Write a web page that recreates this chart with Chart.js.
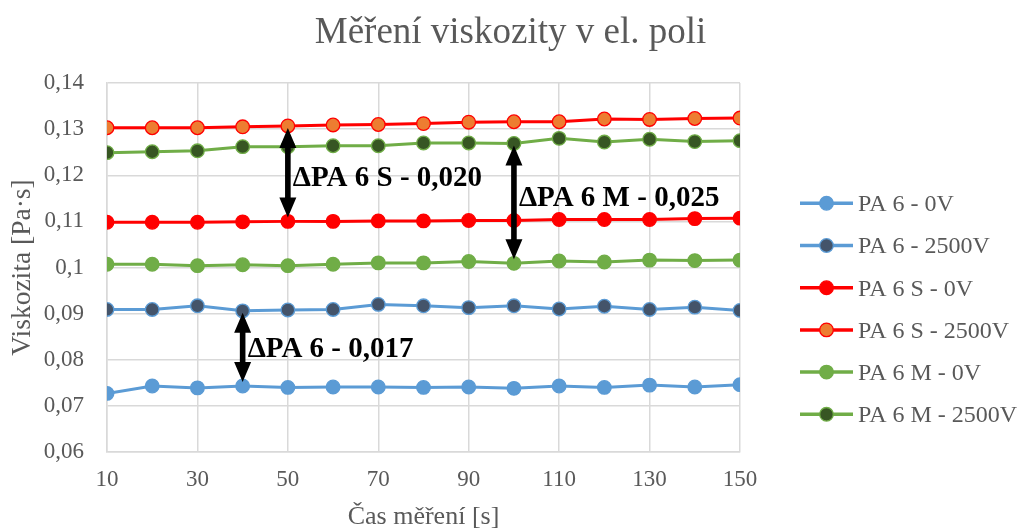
<!DOCTYPE html>
<html>
<head>
<meta charset="utf-8">
<script src="https://cdn.jsdelivr.net/npm/chart.js@4/dist/chart.umd.min.js"></script>
<style>
  html, body { margin: 0; padding: 0; background: #ffffff; }
  #wrap { width: 1021px; height: 529px; position: relative; }
</style>
</head>
<body>
<div id="wrap"><canvas id="chart" width="1021" height="529"></canvas></div>
<script>
// Measurement times [s]
const times = [10, 20, 30, 40, 50, 60, 70, 80, 90, 100, 110, 120, 130, 140, 150];
const xTicks = [10, 30, 50, 70, 90, 110, 130, 150];
const yTicks = [0.06, 0.07, 0.08, 0.09, 0.10, 0.11, 0.12, 0.13, 0.14];

// Viscosity [Pa·s]
const pa6_0V      = [0.0727, 0.0743, 0.0739, 0.0743, 0.0740, 0.0741, 0.0741, 0.0740, 0.0741, 0.0738, 0.0743, 0.0740, 0.0745, 0.0741, 0.0746];
const pa6_2500V   = [0.0909, 0.0909, 0.0917, 0.0906, 0.0908, 0.0909, 0.0920, 0.0917, 0.0913, 0.0917, 0.0910, 0.0916, 0.0909, 0.0914, 0.0907];
const pa6S_0V     = [0.1098, 0.1098, 0.1098, 0.1099, 0.1100, 0.1100, 0.1101, 0.1101, 0.1102, 0.1102, 0.1104, 0.1104, 0.1104, 0.1106, 0.1107];
const pa6S_2500V  = [0.1303, 0.1303, 0.1303, 0.1305, 0.1307, 0.1309, 0.1310, 0.1312, 0.1315, 0.1316, 0.1316, 0.1322, 0.1321, 0.1323, 0.1324];
const pa6M_0V     = [0.1007, 0.1007, 0.1004, 0.1006, 0.1004, 0.1007, 0.1010, 0.1010, 0.1013, 0.1009, 0.1014, 0.1012, 0.1016, 0.1015, 0.1016];
const pa6M_2500V  = [0.1249, 0.1251, 0.1253, 0.1262, 0.1262, 0.1264, 0.1264, 0.1270, 0.1270, 0.1269, 0.1280, 0.1272, 0.1278, 0.1273, 0.1275];

const seriesNames = ['PA 6 - 0V', 'PA 6 - 2500V', 'PA 6 S - 0V', 'PA 6 S - 2500V', 'PA 6 M - 0V', 'PA 6 M - 2500V'];
const seriesValues = [pa6_0V, pa6_2500V, pa6S_0V, pa6S_2500V, pa6M_0V, pa6M_2500V];

// Difference annotations: time, upper series, lower series, text
const deltaTimes  = [50, 100, 40];
const deltaUpper  = [3, 5, 1];
const deltaLower  = [2, 4, 0];
const deltaTexts  = ['ΔPA 6 S - 0,020', 'ΔPA 6 M - 0,025', 'ΔPA 6 - 0,017'];
const deltaTextShift = [6, -4, 2];

const lineColors  = ['#5B9BD5', '#5B9BD5', '#FF0000', '#FF0000', '#70AD47', '#70AD47'];
const pointFills  = ['#5B9BD5', '#44546A', '#FF0000', '#ED7D31', '#70AD47', '#375623'];

const SERIF = '"Liberation Serif", "Times New Roman", serif';
const GREY = '#595959';

const datasets = seriesValues.map((vals, i) => ({
  label: seriesNames[i],
  data: times.map((t, k) => ({ x: t, y: vals[k] })),
  borderColor: lineColors[i],
  backgroundColor: pointFills[i],
  pointBackgroundColor: pointFills[i],
  pointBorderColor: lineColors[i],
  pointBorderWidth: 1.3,
  pointRadius: 6.8,
  pointHoverRadius: 6.8,
  borderWidth: 3,
  tension: 0,
  order: seriesValues.length - 1 - i
}));

function drawArrow(ctx, x, yTop, yBot) {
  const hw = 8.5, hl = 20, sw = 2.8;
  ctx.beginPath();
  ctx.moveTo(x, yTop);
  ctx.lineTo(x + hw, yTop + hl);
  ctx.lineTo(x + sw, yTop + hl);
  ctx.lineTo(x + sw, yBot - hl);
  ctx.lineTo(x + hw, yBot - hl);
  ctx.lineTo(x, yBot);
  ctx.lineTo(x - hw, yBot - hl);
  ctx.lineTo(x - sw, yBot - hl);
  ctx.lineTo(x - sw, yTop + hl);
  ctx.lineTo(x - hw, yTop + hl);
  ctx.closePath();
  ctx.fill();
}

const decor = {
  id: 'decor',
  afterDatasetsDraw(chart) {
    const ctx = chart.ctx;
    const xs = chart.scales.x, ys = chart.scales.y;
    ctx.save();
    ctx.fillStyle = '#000000';
    deltaTimes.forEach((t, i) => {
      const k = times.indexOf(t);
      const px = xs.getPixelForValue(t);
      const yTop = ys.getPixelForValue(seriesValues[deltaUpper[i]][k]) + 2;
      const yBot = ys.getPixelForValue(seriesValues[deltaLower[i]][k]) - 4;
      drawArrow(ctx, px, yTop, yBot);
      ctx.font = 'bold 29px ' + SERIF;
      ctx.textAlign = 'left';
      ctx.textBaseline = 'middle';
      ctx.fillText(deltaTexts[i], px + 5, (yTop + yBot) / 2 + deltaTextShift[i]);
    });
    ctx.restore();
  },
  afterDraw(chart) {
    const ctx = chart.ctx;
    ctx.save();
    // chart title
    ctx.fillStyle = GREY;
    ctx.font = '37px ' + SERIF;
    ctx.textAlign = 'center';
    ctx.textBaseline = 'alphabetic';
    ctx.fillText('Měření viskozity v el. poli', chart.width / 2, 43);

    // legend
    const left = chart.chartArea.right + 60;
    const top = 203.3, step = 42.2, size = 24;
    chart.data.datasets.forEach((ds, i) => {
      const y = top + i * step;
      ctx.strokeStyle = ds.borderColor;
      ctx.lineWidth = 3.5;
      ctx.beginPath();
      ctx.moveTo(left, y);
      ctx.lineTo(left + 53, y);
      ctx.stroke();
      ctx.beginPath();
      ctx.arc(left + 26.5, y, 6.8, 0, Math.PI * 2);
      ctx.fillStyle = ds.pointBackgroundColor;
      ctx.fill();
      ctx.lineWidth = 1.3;
      ctx.strokeStyle = ds.pointBorderColor;
      ctx.stroke();
      ctx.fillStyle = GREY;
      ctx.font = size + 'px ' + SERIF;
      ctx.textAlign = 'left';
      ctx.textBaseline = 'alphabetic';
      ctx.fillText(ds.label, left + 58, y + 0.662 * size / 2);
    });
    ctx.restore();
  }
};

new Chart(document.getElementById('chart'), {
  type: 'line',
  data: { datasets },
  options: {
    responsive: false,
    devicePixelRatio: 1,
    animation: false,
    events: [],
    layout: { padding: { top: 83, right: 281, left: 0, bottom: 0 } },
    plugins: {
      legend: { display: false },
      title: { display: false },
      tooltip: { enabled: false }
    },
    scales: {
      x: {
        type: 'linear',
        min: 10,
        max: 150,
        afterBuildTicks: s => { s.ticks = xTicks.map(v => ({ value: v })); },
        afterFit: s => { s.height = 77; },
        grid: { color: '#d9d9d9', lineWidth: 1.5, drawTicks: false },
        border: { display: true, color: '#d9d9d9', width: 1.5 },
        ticks: {
          color: GREY,
          font: { family: SERIF, size: 23 },
          padding: 14,
          maxRotation: 0,
          callback: v => String(v)
        },
        title: {
          display: true,
          text: 'Čas měření [s]',
          color: GREY,
          font: { family: SERIF, size: 26, lineHeight: 1.0 },
          padding: { top: 0, bottom: -1 }
        }
      },
      y: {
        type: 'linear',
        min: 0.06,
        max: 0.14,
        afterBuildTicks: s => { s.ticks = yTicks.map(v => ({ value: v })); },
        afterFit: s => { s.width = 107; },
        grid: { color: '#d9d9d9', lineWidth: 1.5, drawTicks: false },
        border: { display: true, color: '#d9d9d9', width: 1.5 },
        ticks: {
          color: GREY,
          font: { family: SERIF, size: 23 },
          padding: 23,
          callback: v => Number(v.toFixed(2)).toString().replace('.', ',')
        },
        title: {
          display: true,
          text: 'Viskozita [Pa·s]',
          color: GREY,
          font: { family: SERIF, size: 27.5, lineHeight: 1.0 },
          padding: { top: 9, bottom: 0 }
        }
      }
    }
  },
  plugins: [decor]
});
</script>
</body>
</html>
